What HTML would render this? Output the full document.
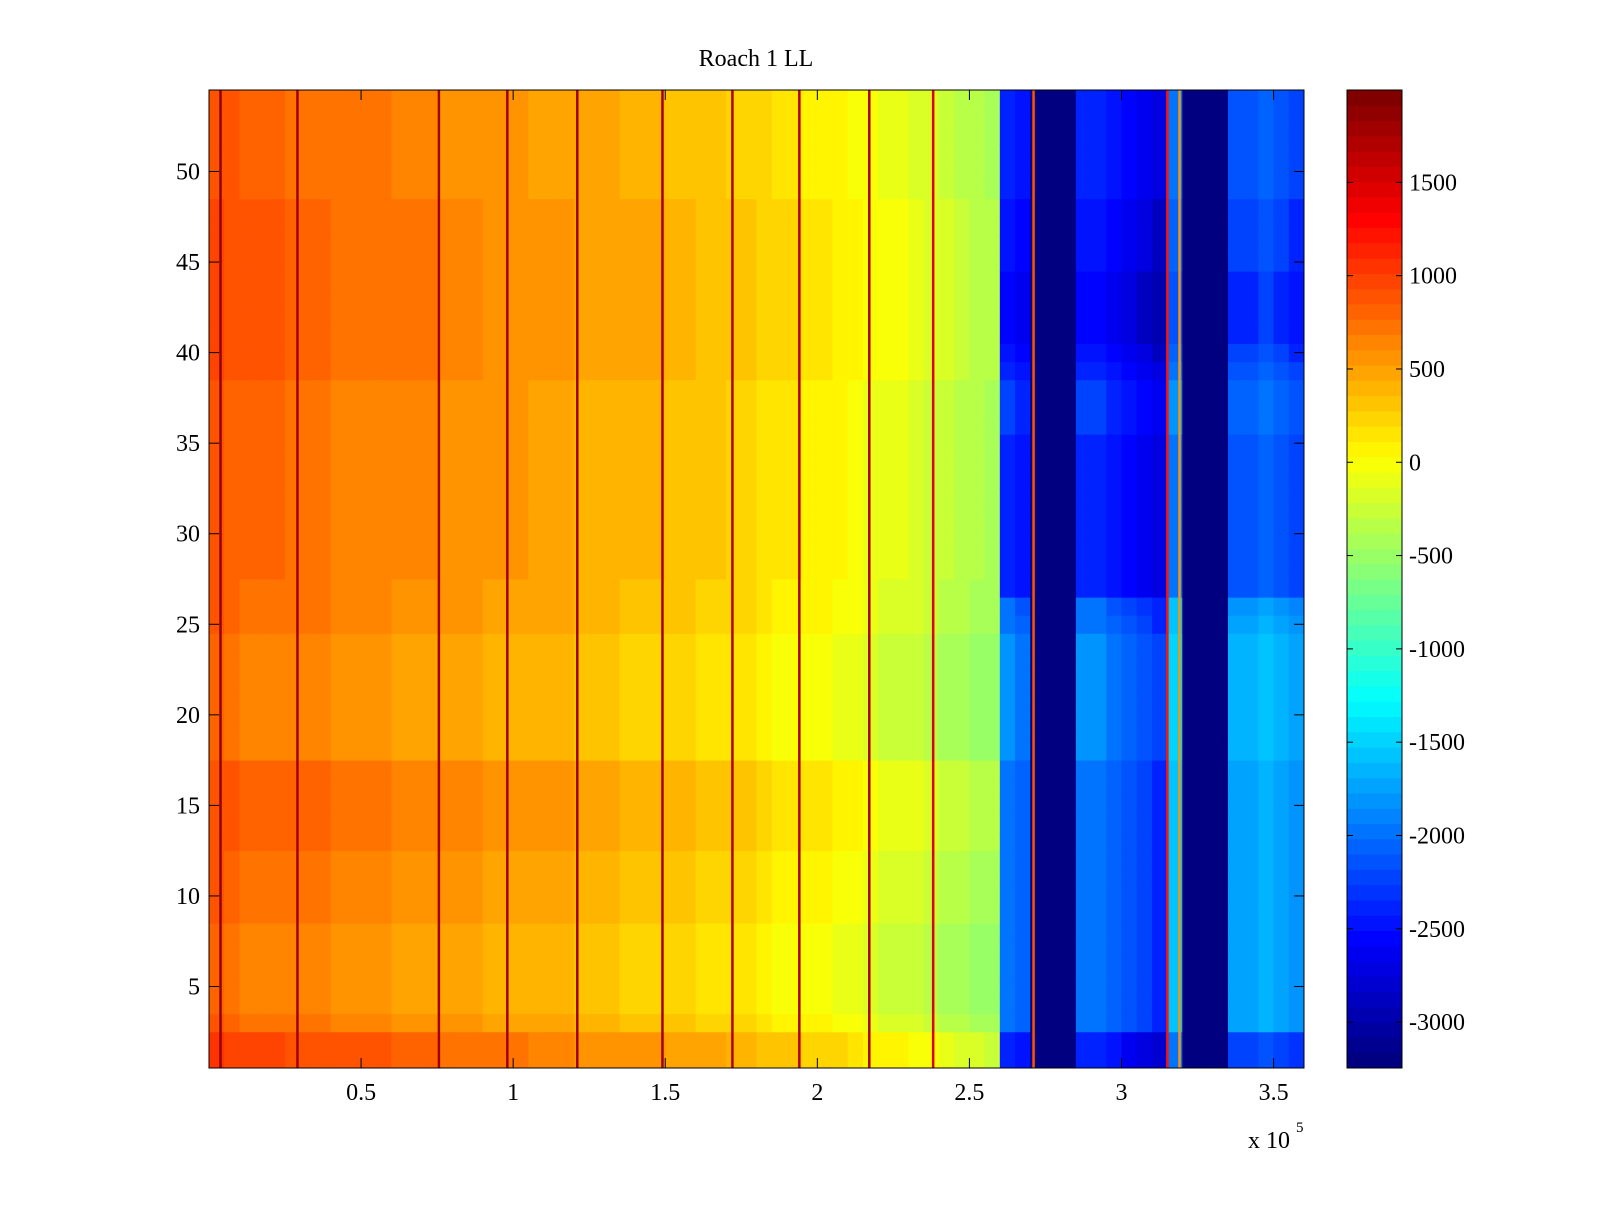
<!DOCTYPE html>
<html><head><meta charset="utf-8"><style>
body{margin:0;background:#fff;width:1600px;height:1200px;overflow:hidden}
svg text{font-family:"Liberation Serif",serif;font-size:24px;fill:#000}
</style></head><body>
<svg id="chart" width="1600" height="1200" xmlns="http://www.w3.org/2000/svg">
<rect width="1600" height="1200" fill="#fff"/>
<g id="cells"></g>
<g id="cbar"></g>
<g id="axes"></g>
<text x="756" y="66" text-anchor="middle">Roach 1 LL</text>
<text x="1248" y="1148">x 10</text>
<text x="1296" y="1132" style="font-size:15px">5</text>
</svg>
<script>
// column bins, width 5000 in x, from 0 to 3.6e5
const binWidth = 5000;
const colMeans = [850,800,750,750,750,700, 700,700,650,650,650,650, 600,600,600,550,550,550,
 500,500,500,450,450,450, 400,400,400,350,350,350, 300,300,250,250,200,200,
 150,100,100,50,50,0, -50,-100,-150,-150,-200,-250, -300,-350,-400,-450,
 -2100,-2200, -3246,-3246,-3246, -2100,-2100,-2200,-2300,-2400,-2500, -1700,
 -3246,-3246,-3246, -1900,-1900,-1800,-1900,-2000];
// row offsets for rows 1..54 (bottom to top), warm region
const rowOffsets = [200,200,0,-80,-80,-80,-80,-80,0,0,0,0,80,80,80,80,80,
 -80,-80,-80,-80,-80,-80,-80,0,0,0,30,30,30,30,30,30,30,30,30,30,30,
 100,100,100,100,100,100,100,100,100,100,50,50,50,50,50,50];
// row offsets for blue region
const blueRowOffsets = [-300,-300,150,150,150,150,150,150,150,150,150,150,150,150,150,150,150,
 250,250,250,250,250,250,250,150,100,-250,-250,-250,-250,-250,-250,-250,-250,-250,-150,-150,-150,
 -250,-350,-450,-450,-450,-450,-350,-350,-350,-350,-250,-250,-250,-250,-250,-250];
// narrow high-value stripes (x in units of 1e5)
const spikeX = [0.037,0.29,0.755,0.98,1.21,1.49,1.72,1.94,2.17,2.38,2.71,3.15,3.19];
const spikeVals = [1900,1800,1800,1800,1800,1800,1700,1700,1700,1500,900,1200,600];
const xTicks = [0.5,1,1.5,2,2.5,3,3.5];
const yTicks = [5,10,15,20,25,30,35,40,45,50];
const cTicks = [1500,1000,500,0,-500,-1000,-1500,-2000,-2500,-3000];
const cMin = -3246, cMax = 1995;

const PX0=209,PX1=1304,PY0=90,PY1=1068;
const CX0=1347,CX1=1402;
const xs = v => PX0 + (v/3.6e5)*(PX1-PX0);
const ys = r => PY1 - (r-0.5)/54*(PY1-PY0);
const cs = v => PY1 - (v-cMin)/(cMax-cMin)*(PY1-PY0);
function jet(t){t=Math.max(0,Math.min(1,t));t=Math.floor(t*63.999)/63;
 const f=x=>Math.max(0,Math.min(1,x));
 const r=f(1.5-Math.abs(4*t-3)),g=f(1.5-Math.abs(4*t-2)),b=f(1.5-Math.abs(4*t-1));
 return `rgb(${Math.round(r*255)},${Math.round(g*255)},${Math.round(b*255)})`;}
const col = v => jet((v-cMin)/(cMax-cMin));
const NS="http://www.w3.org/2000/svg";
function mk(tag,attrs,parent){const e=document.createElementNS(NS,tag);for(const k in attrs)e.setAttribute(k,attrs[k]);parent.appendChild(e);return e;}
const cells=document.getElementById('cells');
colMeans.forEach((m,c)=>{
 rowOffsets.forEach((o,r)=>{
  let v;
  if(m<=-3000) v=m; else if(m<-1000) v=m+blueRowOffsets[r]; else v=m+o;
  const x0=xs(c*binWidth), x1=xs((c+1)*binWidth);
  const e=mk('rect',{x:x0,y:ys(r+1.5),width:x1-x0+0.5,height:(PY1-PY0)/54+0.5,fill:col(v)},cells);
  
  
 });
});
spikeX.forEach((sx,i)=>{
 const e=mk('rect',{x:xs(sx*1e5)-1,y:PY0,width:2.5,height:PY1-PY0,fill:col(spikeVals[i])},cells);
 
 
});
const cb=document.getElementById('cbar');
for(let i=0;i<64;i++){
 const v0=cMin+(cMax-cMin)*i/64, v1=cMin+(cMax-cMin)*(i+1)/64;
 const e=mk('rect',{x:CX0,y:cs(v1),width:CX1-CX0,height:cs(v0)-cs(v1)+0.5,fill:jet((i+0.5)/64)},cb);
 
 
}
mk('rect',{x:CX0,y:PY0,width:CX1-CX0,height:PY1-PY0,fill:'none',stroke:'#000','stroke-width':1},cb);
cTicks.forEach(v=>{
 const y=cs(v);
 mk('line',{x1:CX0,x2:CX0+6,y1:y,y2:y,stroke:'#000'},cb);
 mk('line',{x1:CX1-6,x2:CX1,y1:y,y2:y,stroke:'#000'},cb);
 const t=mk('text',{x:CX1+7,y:y+8},cb);t.textContent=v;
 
 
});
const ax=document.getElementById('axes');
mk('rect',{x:PX0,y:PY0,width:PX1-PX0,height:PY1-PY0,fill:'none',stroke:'#000'},ax);
xTicks.forEach(v=>{
 const x=xs(v*1e5);
 mk('line',{x1:x,x2:x,y1:PY1,y2:PY1-10,stroke:'#000'},ax);
 mk('line',{x1:x,x2:x,y1:PY0,y2:PY0+10,stroke:'#000'},ax);
 const t=mk('text',{x:x,y:1100,'text-anchor':'middle'},ax);t.textContent=v;
 
 
});
yTicks.forEach(v=>{
 const y=ys(v);
 mk('line',{x1:PX0,x2:PX0+10,y1:y,y2:y,stroke:'#000'},ax);
 mk('line',{x1:PX1,x2:PX1-10,y1:y,y2:y,stroke:'#000'},ax);
 const t=mk('text',{x:200,y:y+8,'text-anchor':'end'},ax);t.textContent=v;
 
 
});
</script>
</body></html>
